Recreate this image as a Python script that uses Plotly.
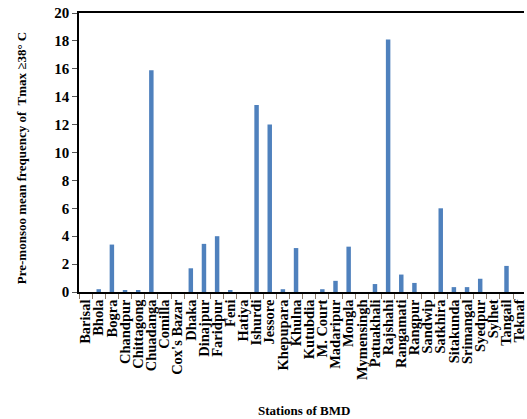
import plotly.graph_objects as go

# BMD stations and their pre-monsoon mean frequency of Tmax >= 38 °C
stations = [
    "Barisal", "Bhola", "Bogra", "Chandpur", "Chittagong", "Chuadanga",
    "Comilla", "Cox's Bazar", "Dhaka", "Dinajpur", "Faridpur", "Feni",
    "Hatiya", "Ishurdi", "Jessore", "Khepupara", "Khulna", "Kutubdia",
    "M. Court", "Madaripur", "Mongla", "Mymensingh", "Patuakhali",
    "Rajshahi", "Rangamati", "Rangpur", "Sandwip", "Satkhira", "Sitakunda",
    "Srimangal", "Syedpur", "Sylhet", "Tangail", "Teknaf",
]
frequency = [
    0.0, 0.2, 3.4, 0.1, 0.1, 15.9,
    0.0, 0.0, 1.7, 3.45, 4.0, 0.1,
    0.0, 13.4, 12.0, 0.2, 3.15, 0.0,
    0.2, 0.8, 3.25, 0.0, 0.57,
    18.1, 1.25, 0.65, 0.0, 6.0, 0.35,
    0.35, 0.95, 0.0, 1.87, 0.0,
]
y_ticks = [0, 2, 4, 6, 8, 10, 12, 14, 16, 18, 20]

serif = "Liberation Serif, Times New Roman, serif"

fig = go.Figure(
    go.Bar(
        x=stations,
        y=frequency,
        marker=dict(color="#4F81BD", line=dict(width=0)),
    )
)

fig.update_layout(
    width=527,
    height=419,
    margin=dict(l=79, r=0, t=13, b=127),
    paper_bgcolor="white",
    plot_bgcolor="white",
    bargap=0.66,
    showlegend=False,
    font=dict(family=serif, color="black"),
    annotations=[
        dict(
            text="<b>Pre-monsoo mean frequency of  Tmax ≥38° C</b>",
            xref="paper", yref="paper",
            x=-0.13, y=0.48,
            xanchor="center", yanchor="middle",
            textangle=-90, showarrow=False,
            font=dict(family=serif, size=13, color="black"),
        ),
        dict(
            text="<b>Stations of BMD</b>",
            xref="paper", yref="paper",
            x=0.505, y=-0.425,
            xanchor="center", yanchor="middle",
            showarrow=False,
            font=dict(family=serif, size=13, color="black"),
        ),
    ],
)

fig.update_xaxes(
    type="category",
    range=[-0.5, 33.33],
    tickmode="array",
    tickvals=stations,
    ticktext=stations,
    tickangle=-90,
    tickson="boundaries",
    ticks="outside",
    ticklen=5,
    tickcolor="#8a7a6a",
    tickfont=dict(family=serif, size=14.5, color="black", weight="bold"),
    showline=True,
    linecolor="black",
    linewidth=1.5,
    mirror=True,
    showgrid=False,
    fixedrange=True,
)

fig.update_yaxes(
    range=[0, 20],
    tickvals=y_ticks,
    ticks="outside",
    ticklen=5,
    tickcolor="#555555",
    tickfont=dict(family=serif, size=15, color="black", weight="bold"),
    showline=True,
    linecolor="black",
    linewidth=1.5,
    mirror=False,
    showgrid=False,
    zeroline=False,
)

fig.write_html("out.html")
